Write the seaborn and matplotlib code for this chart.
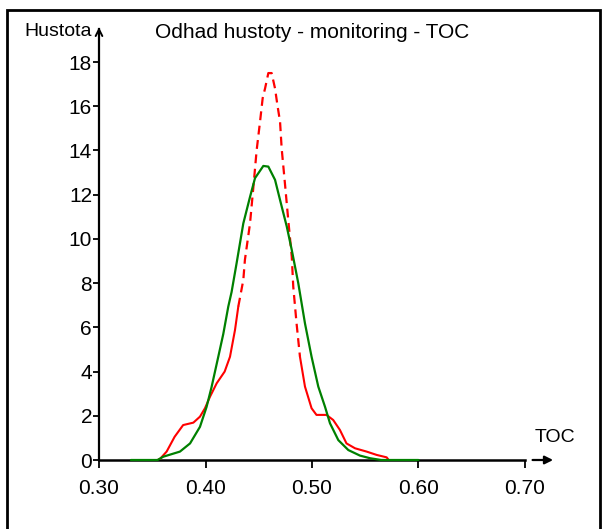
# Density estimate (red, dashed core) vs fitted normal density (green) for TOC
import matplotlib
matplotlib.use("Agg")
import numpy as np
import pandas as pd
import matplotlib.pyplot as plt
from matplotlib import font_manager
from matplotlib.patches import Rectangle
import seaborn as sns

# Kernel density estimate
red_x = [0.355, 0.3573, 0.3635, 0.371, 0.379, 0.3886, 0.3948, 0.3995, 0.4042, 0.4105,
         0.418, 0.423, 0.4277, 0.4308, 0.4355, 0.437, 0.4418, 0.445, 0.448, 0.4512,
         0.4537, 0.4559, 0.459, 0.4621, 0.4653, 0.4675, 0.470, 0.4715, 0.4746, 0.4777,
         0.481, 0.4824, 0.4855, 0.4887, 0.4934, 0.4996, 0.5042, 0.5136, 0.5199, 0.5262,
         0.5324, 0.5404, 0.5513, 0.5607, 0.5701, 0.572]
red_y = [0, 0.05, 0.38, 1.05, 1.58, 1.69, 1.96, 2.34, 2.86, 3.47,
         4.0, 4.67, 5.88, 6.94, 8.14, 9.05, 10.7, 12.37, 14.0, 15.3,
         16.37, 16.8, 17.5, 17.5, 16.8, 16.06, 15.3, 14.1, 12.5, 10.86,
         9.2, 7.84, 6.18, 4.67, 3.32, 2.34, 2.04, 2.04, 1.81, 1.36,
         0.75, 0.53, 0.38, 0.23, 0.12, 0]

# Normal density
green_x = [0.33, 0.355, 0.3604, 0.376, 0.3855, 0.3948, 0.401, 0.4057, 0.412, 0.4167,
           0.4214, 0.4245, 0.4292, 0.4355, 0.4418, 0.4465, 0.4543, 0.459, 0.4653, 0.470,
           0.4763, 0.481, 0.4871, 0.4934, 0.4996, 0.5059, 0.5122, 0.5169, 0.5247, 0.5341,
           0.545, 0.5545, 0.565, 0.60]
green_y = [0, 0, 0.15, 0.38, 0.75, 1.5, 2.4, 3.3, 4.67, 5.7,
           6.94, 7.6, 8.9, 10.7, 11.9, 12.75, 13.3, 13.27, 12.67, 11.76,
           10.56, 9.5, 8.0, 6.18, 4.67, 3.32, 2.41, 1.66, 0.9, 0.45,
           0.2, 0.08, 0, 0]

x_ticks = [0.30, 0.40, 0.50, 0.60, 0.70]
y_ticks = list(range(0, 19, 2))

sns.set_theme(style="white")

# narrow face if there is one, else plain Liberation Sans a bit smaller
names = {f.name for f in font_manager.fontManager.ttflist}
if 'Liberation Sans Narrow' in names:
    fam, fs, fs_small = 'Liberation Sans Narrow', 17, 16
elif 'DejaVu Sans Condensed' in names:
    fam, fs, fs_small = 'DejaVu Sans Condensed', 15.5, 14.5
else:
    fam, fs, fs_small = 'Liberation Sans', 15, 14
plt.rcParams['font.family'] = [fam, 'DejaVu Sans']
plt.rcParams['text.color'] = 'black'

kde = pd.DataFrame({'x': red_x, 'y': red_y})
norm = pd.DataFrame({'x': green_x, 'y': green_y})

fig = plt.figure(figsize=(6.07, 5.29), dpi=100)
ax = fig.add_axes([99 / 607, 69 / 529, 0.435 * 1065 / 607, 19.5 * 22.11 / 529])

# red: solid tails, dashed around the peak
core = (kde['x'] >= 0.43) & (kde['x'] <= 0.49)
left = kde['x'] <= 0.4308
right = kde['x'] >= 0.4887
for part in (kde[left], kde[right]):
    sns.lineplot(data=part, x='x', y='y', ax=ax, color='#ff0000', lw=1.5,
                 sort=False, estimator=None, zorder=4)
ax.plot(kde.loc[core, 'x'], kde.loc[core, 'y'], color='#ff0000', lw=1.6,
        dashes=(4, 2.5), zorder=4)
sns.lineplot(data=norm, x='x', y='y', ax=ax, color='#008000', lw=1.6,
             sort=False, estimator=None, zorder=5, clip_on=False)

ax.set_xlim(0.30, 0.735)
ax.set_ylim(0, 19.5)
ax.set_xlabel('')
ax.set_ylabel('')
ax.set_xticks(x_ticks)
ax.set_xticklabels([f'{v:.2f}' for v in x_ticks])
ax.set_yticks(y_ticks)
ax.tick_params(axis='both', labelsize=fs, colors='black', width=1.3)
ax.tick_params(axis='x', direction='out', length=6, pad=8, bottom=True)
ax.tick_params(axis='y', direction='out', length=4, pad=1, left=True)

for s in ('top', 'right'):
    ax.spines[s].set_visible(False)
ax.spines['left'].set_color('black')
ax.spines['left'].set_linewidth(1.6)
ax.spines['bottom'].set_color('black')
ax.spines['bottom'].set_linewidth(1.8)
ax.spines['bottom'].set_bounds(0.30, 0.70)

# axis arrows
ax.annotate('', xy=(0.30, 19.7), xytext=(0.30, 18.9),
            arrowprops=dict(arrowstyle='->', lw=1.4, color='black'),
            annotation_clip=False)
ax.annotate('', xy=(0.729, 0), xytext=(0.7045, 0),
            arrowprops=dict(arrowstyle='-|>', lw=1.6, color='black', mutation_scale=12),
            annotation_clip=False)

fig.text(312 / 607, 1 - 33 / 529, 'Odhad hustoty - monitoring - TOC',
         ha='center', va='center', fontsize=fs)
fig.text(92 / 607, 1 - 31 / 529, 'Hustota', ha='right', va='center', fontsize=fs_small)
fig.text(555 / 607, 1 - 437 / 529, 'TOC', ha='center', va='center', fontsize=fs_small)

fig.add_artist(Rectangle((7 / 607, -0.05), (600 - 7) / 607, 1.05 - 10 / 529,
                         transform=fig.transFigure, fill=False, lw=2, ec='black'))

fig.savefig('out.png', dpi=100)
